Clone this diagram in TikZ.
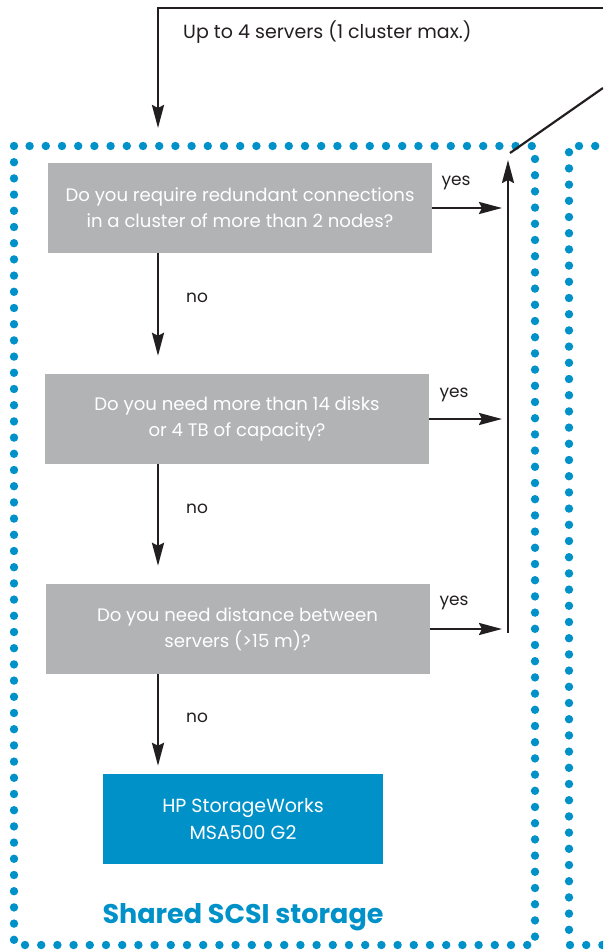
\documentclass[tikz,border=0pt]{standalone}
\usepackage{fontspec}
\setmainfont{Poppins}
\usetikzlibrary{arrows.meta,positioning}
\definecolor{hpblue}{RGB}{0,145,201}
\definecolor{boxgray}{RGB}{178,179,181}
\definecolor{inkblack}{RGB}{35,31,32}

\begin{document}
\begin{tikzpicture}[x=1pt, y=-1pt,
    question/.style={fill=boxgray, text=white, minimum width=384pt, minimum height=90pt,
        align=center, inner sep=0pt, font=\fontsize{18.1}{26}\selectfont},
    product/.style={fill=hpblue, text=white, minimum width=280pt, minimum height=90pt,
        align=center, inner sep=0pt, font=\fontsize{19}{27}\selectfont},
    flow/.style={-{Stealth[length=23pt, width=12pt, inset=3pt]}, line width=2.6pt, inkblack},
    dots/.style={hpblue, line width=8.4pt, line cap=round, dash pattern=on 0pt off 16.2pt},
    lbl/.style={font=\fontsize{17}{20}\selectfont, text=inkblack, inner sep=0pt}]
    \useasboundingbox (0,0) rectangle (603,950);
    \clip (0,0) rectangle (603,950);

    % Dotted frames
    \draw[dots] (14,146) rectangle (535,945);
    \draw[dots] (660,146) -- (569,146) -- (569,945) -- (660,945);

    % Question boxes
    \node[question] (q1) at (240,208) {Do you require redundant connections\\in a cluster of more than 2 nodes?};
    \node[question] (q2) at (237,419) {Do you need more than 14 disks\\or 4 TB of capacity?};
    \node[question] (q3) at (237.5,629) {Do you need distance between\\servers (>15 m)?};
    \node[product] (msa) at (243,819) {HP StorageWorks\\MSA500 G2};
    \node[font=\fontsize{27}{32}\selectfont\bfseries, text=hpblue] (title) at (243,917) {Shared SCSI storage};

    % Helper coordinates
    \coordinate (nox) at (158,0);
    \coordinate (yesx) at (502,0);
    \coordinate (railbot) at (508,633);
    \coordinate (railtop) at (508,160);
    \coordinate (topright) at (603,8);
    \coordinate (topleft) at (158,8);
    \coordinate (entry) at (158,128);
    \coordinate (diagfoot) at (510,153);
    \coordinate (diaghead) at (603,88);

    % Entry from the top
    \draw[flow] (topright) -- (topleft) -- (entry);
    \node[lbl, anchor=west, font=\fontsize{19}{22}\selectfont] (servers) at (183,32) {Up to 4 servers (1 cluster max.)};
    \draw[line width=2.2pt, inkblack] (diagfoot) -- (diaghead);

    % No branches
    \draw[flow] (q1.south -| nox) -- ([yshift=18pt]q2.north -| nox);
    \draw[flow] (q2.south -| nox) -- ([yshift=18pt]q3.north -| nox);
    \draw[flow] (q3.south -| nox) -- ([yshift=8pt]msa.north -| nox);
    \node[lbl, anchor=west] (no1) at (186,298) {no};
    \node[lbl, anchor=west] (no2) at (186,509) {no};
    \node[lbl, anchor=west] (no3) at (186,718) {no};

    % Yes branches
    \draw[flow] (q1.east) -- (q1.east -| yesx);
    \draw[flow] (q2.east) -- (q2.east -| yesx);
    \draw[flow] (q3.east) -- (q3.east -| yesx);
    \node[lbl] (yes1) at (456,183) {yes};
    \node[lbl] (yes2) at (454,395) {yes};
    \node[lbl] (yes3) at (454,603) {yes};
    \draw[flow] (railbot) -- (railtop);
\end{tikzpicture}
\end{document}
